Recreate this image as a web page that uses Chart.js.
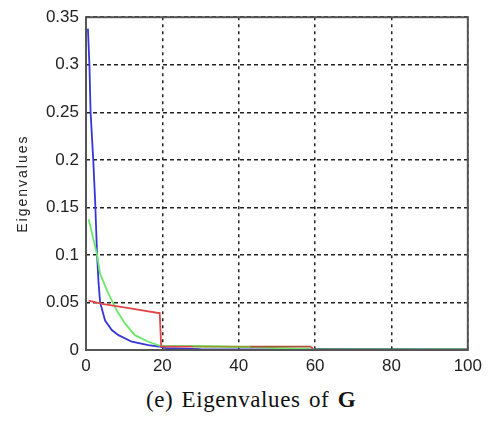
<!DOCTYPE html>
<html>
<head>
<meta charset="utf-8">
<script src="https://cdn.jsdelivr.net/npm/chart.js@4"></script>
<style>
  body { margin: 0; background: #fff; }
  #wrap { position: relative; width: 488px; height: 425px; }
  #chart { position: absolute; left: 0; top: 0; }
  #caption {
    position: absolute; left: 0; width: 502px; top: 387px;
    text-align: center; font-family: "Liberation Serif", "DejaVu Serif", serif;
    font-size: 23px; letter-spacing: 0.6px; word-spacing: 2px; color: #111;
  }
</style>
</head>
<body>
<div id="wrap">
  <canvas id="chart" width="488" height="385"></canvas>
  <div id="caption">(e) Eigenvalues of <b>G</b></div>
</div>
<script>
// Axis ticks
const xTicks = [0, 20, 40, 60, 80, 100];
const yTicks = [0, 0.05, 0.1, 0.15, 0.2, 0.25, 0.3, 0.35];

// Series (index, eigenvalue)
const blueIdx = [0.5, 0.9, 1.2, 1.9, 2.4, 2.9, 3.3, 3.7, 5, 6.75, 8.5, 12, 16.3, 19.2, 21, 30, 60, 100];
const blueVals = [0.338, 0.3, 0.25, 0.2, 0.156, 0.1, 0.07, 0.05, 0.031, 0.021, 0.0156, 0.0087, 0.0052, 0.0035, 0.002, 0.001, 0.0005, 0.0003];

const greenIdx = [0.7, 2.86, 3.7, 5.9, 8, 10.2, 12.8, 16.3, 19.2, 20, 28, 43, 60, 100];
const greenVals = [0.1375, 0.101, 0.08, 0.059, 0.042, 0.028, 0.0156, 0.0087, 0.0045, 0.0042, 0.0042, 0.003, 0.0007, 0.0006];

const redIdx = [0.7, 4.2, 12, 18.9, 19.3, 19.7, 28, 43, 59, 59.5];
const redVals = [0.052, 0.0486, 0.0434, 0.0389, 0.0389, 0.0035, 0.0035, 0.0035, 0.0035, 0.0005];

const toPoints = (xs, ys) => xs.map((x, i) => ({ x: x, y: ys[i] }));

// Draw the box round the plot area and the y axis title
const frame = {
    id: 'frame',
    afterDatasetsDraw(chart) {
        const { ctx, chartArea: a } = chart;
        ctx.save();
        ctx.strokeStyle = '#555';
        ctx.lineWidth = 2;
        ctx.strokeRect(a.left, a.top, a.right - a.left, a.bottom - a.top);
        ctx.restore();

        ctx.save();
        ctx.translate(23, (a.top + a.bottom) / 2);
        ctx.rotate(-Math.PI / 2);
        ctx.font = '14px "Liberation Sans", Arial';
        ctx.letterSpacing = '2px';
        ctx.fillStyle = '#222';
        ctx.textAlign = 'center';
        ctx.textBaseline = 'middle';
        ctx.fillText('Eigenvalues', 0, 0);
        ctx.restore();
    }
};

const fmt = v => String(parseFloat(v.toFixed(2)));

new Chart(document.getElementById('chart'), {
    type: 'line',
    data: {
        datasets: [
            {
                data: toPoints(redIdx, redVals),
                borderColor: '#e0484a',
                segment: {
                    borderColor: c => (c.p0.parsed.x >= 27 && c.p0.parsed.x < 43) ? '#8e9a2c' : (c.p0.parsed.x >= 43 && c.p0.parsed.x < 59 ? '#a8502e' : undefined)
                }
            },
            {
                data: toPoints(greenIdx, greenVals),
                borderColor: '#6ae86a',
                segment: {
                    borderColor: c => c.p0.parsed.x >= 59 ? '#1f7d1f' : undefined
                }
            },
            {
                data: toPoints(blueIdx, blueVals),
                borderColor: '#3535d8'
            }
        ]
    },
    options: {
        responsive: false,
        animation: false,
        layout: { padding: { left: 0, top: 14, right: 17, bottom: 0 } },
        elements: {
            point: { radius: 0 },
            line: { borderWidth: 1.8, tension: 0 }
        },
        plugins: { legend: { display: false }, tooltip: { enabled: false } },
        scales: {
            x: {
                type: 'linear',
                min: 0, max: 100,
                afterBuildTicks: s => { s.ticks = xTicks.map(v => ({ value: v })); },
                afterFit: s => { s.height = 35; },
                ticks: {
                    color: '#222', padding: 6,
                    font: { family: 'Liberation Sans, Arial', size: 17 }
                },
                grid: { color: '#222', lineWidth: 1.5, drawTicks: false },
                border: { display: false, dash: [3, 4] }
            },
            y: {
                min: 0, max: 0.35,
                afterBuildTicks: s => { s.ticks = yTicks.map(v => ({ value: v })); },
                afterFit: s => { s.width = 86; },
                ticks: {
                    color: '#222', padding: 7,
                    callback: v => fmt(v),
                    font: { family: 'Liberation Sans, Arial', size: 17 }
                },
                grid: { color: '#222', lineWidth: 1.5, drawTicks: false },
                border: { display: false, dash: [4, 3] }
            }
        }
    },
    plugins: [frame]
});
</script>
</body>
</html>
